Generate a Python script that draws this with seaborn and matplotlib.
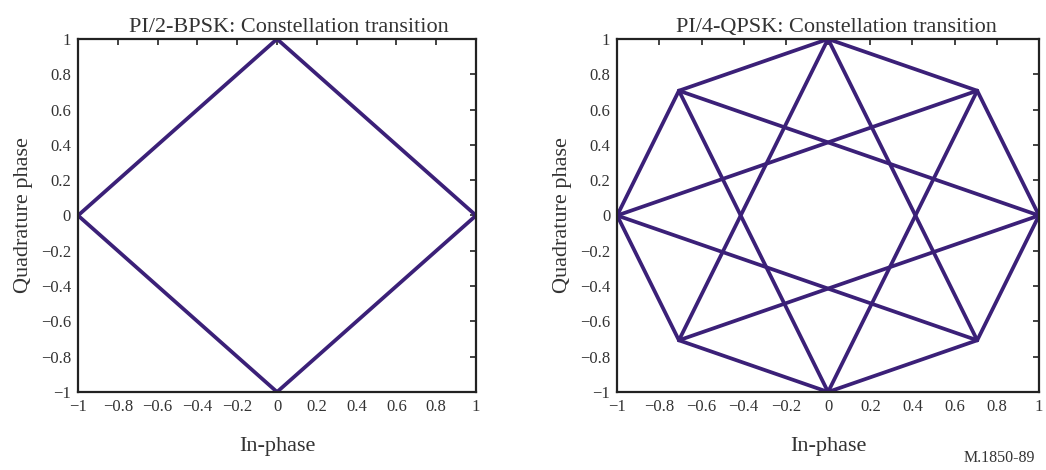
import numpy as np
import pandas as pd
import matplotlib
matplotlib.use("Agg")
import matplotlib.pyplot as plt
import seaborn as sns

# PI/2-BPSK trajectory (in-phase / quadrature)
bpsk_i = [1, 0, -1, 0, 1]
bpsk_q = [0, 1, 0, -1, 0]

# PI/4-QPSK trajectory: octagon edges then star (step-3) transitions
r = 0.7071
qpsk_i = [1, r, 0, -r, -1, -r, 0, r, 1, -r, 0, r, -1, r, 0, -r, 1]
qpsk_q = [0, r, 1, r, 0, -r, -1, -r, 0, r, -1, r, 0, -r, 1, -r, 0]

ticks = [-1, -0.8, -0.6, -0.4, -0.2, 0, 0.2, 0.4, 0.6, 0.8, 1]
tick_labels = ["\u22121", "\u22120.8", "\u22120.6", "\u22120.4", "\u22120.2", "0",
               "0.2", "0.4", "0.6", "0.8", "1"]
titles = ["PI/2-BPSK: Constellation transition", "PI/4-QPSK: Constellation transition"]
footer = "M.1850-89"

sns.set_style("white")
plt.rcParams['font.family'] = ['Liberation Serif', 'DejaVu Serif']
plt.rcParams['axes.unicode_minus'] = True

fig = plt.figure(figsize=(10.46, 4.70), dpi=100)
ax1 = fig.add_axes([0.0746, 0.166, 0.3805, 0.751])
ax2 = fig.add_axes([0.590, 0.166, 0.4033, 0.751])

line_color = "#3b2078"

def make_df(i_vals, q_vals):
    n = len(i_vals) - 1
    rows = []
    for s in range(n):
        rows.append((s, i_vals[s], q_vals[s]))
        rows.append((s, i_vals[s + 1], q_vals[s + 1]))
    return pd.DataFrame(rows, columns=["seg", "I", "Q"])

title_x = [0.53, 0.52]

for k, (ax, (iv, qv), title) in enumerate(zip([ax1, ax2], [(bpsk_i, bpsk_q), (qpsk_i, qpsk_q)], titles)):
    df = make_df(iv, qv)
    sns.lineplot(data=df, x="I", y="Q", units="seg", estimator=None, sort=False,
                 color=line_color, linewidth=2.7, ax=ax, legend=False)
    ax.set_xlim(-1, 1)
    ax.set_ylim(-1, 1)
    ax.set_xticks(ticks)
    ax.set_xticklabels(tick_labels)
    ax.set_yticks(ticks)
    ax.set_yticklabels(tick_labels)
    ax.tick_params(direction="in", length=4, width=1.2, color="#222222",
                   top=True, right=True, labelsize=12, labelcolor="#333333", pad=5)
    for sp in ax.spines.values():
        sp.set_color("#222222")
        sp.set_linewidth(1.6)
        sp.set_visible(True)
    ax.set_title(title, fontsize=16, color="#333333", pad=5, x=title_x[k])
    ax.set_xlabel("In-phase", fontsize=16, color="#333333", labelpad=16)
    ax.set_ylabel("Quadrature phase", fontsize=16, color="#333333", labelpad=6)

fig.text(0.99, 0.008, footer, ha="right", va="bottom", fontsize=11.5, color="#333333")

fig.savefig("out.png", dpi=100)
